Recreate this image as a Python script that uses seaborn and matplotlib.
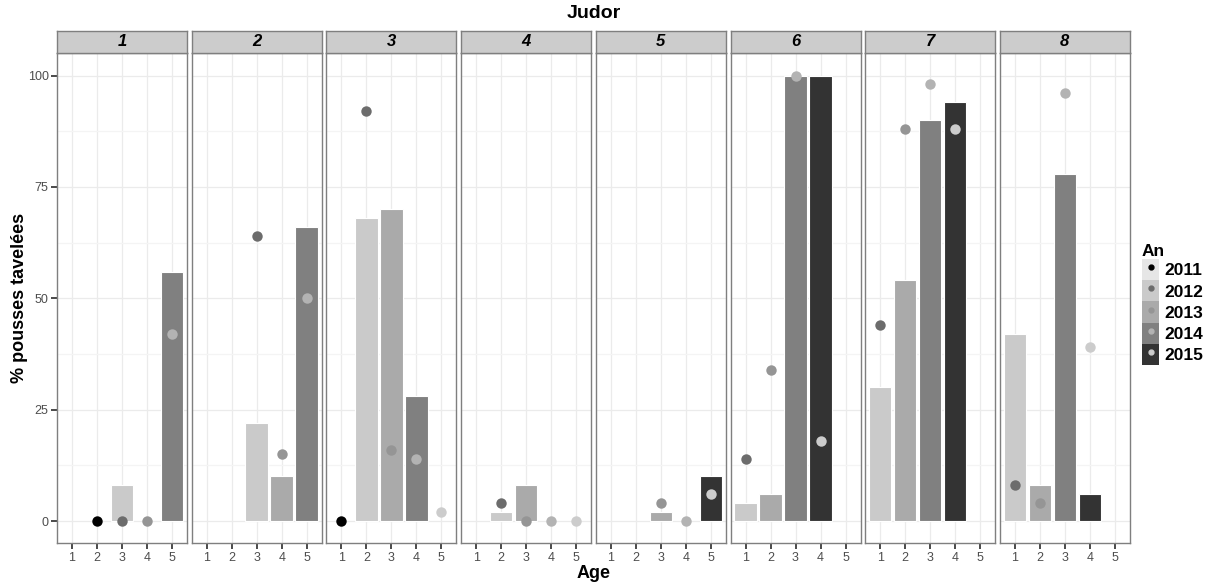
import pandas as pd
import matplotlib
matplotlib.use("Agg")
import matplotlib.pyplot as plt
from matplotlib.patches import Patch
from matplotlib.lines import Line2D
import seaborn as sns

sns.set_theme(style="white")
plt.rcParams['font.family'] = ['Liberation Sans', 'DejaVu Sans']
plt.rcParams['text.color'] = 'black'

# data
panels = [1, 2, 3, 4, 5, 6, 7, 8]
ages = [1, 2, 3, 4, 5]
years = [2011, 2012, 2013, 2014, 2015]

# bars: panel, age, year, value
bar_panel = [1, 1, 2, 2, 2, 3, 3, 3, 4, 4, 5, 5, 6, 6, 6, 6, 7, 7, 7, 7, 8, 8, 8, 8]
bar_age = [3, 5, 3, 4, 5, 2, 3, 4, 2, 3, 3, 5, 1, 2, 3, 4, 1, 2, 3, 4, 1, 2, 3, 4]
bar_year = [2012, 2014, 2012, 2013, 2014, 2012, 2013, 2014, 2012, 2013, 2013, 2015,
            2012, 2013, 2014, 2015, 2012, 2013, 2014, 2015, 2012, 2013, 2014, 2015]
bar_val = [8, 56, 22, 10, 66, 68, 70, 28, 2, 8, 2, 10,
           4, 6, 100, 100, 30, 54, 90, 94, 42, 8, 78, 6]

# points: panel, age, year, value
pt_panel = [1, 1, 1, 1, 2, 2, 2, 3, 3, 3, 3, 3, 4, 4, 4, 4, 5, 5, 5,
            6, 6, 6, 6, 7, 7, 7, 7, 8, 8, 8, 8]
pt_age = [2, 3, 4, 5, 3, 4, 5, 1, 2, 3, 4, 5, 2, 3, 4, 5, 3, 4, 5,
          1, 2, 3, 4, 1, 2, 3, 4, 1, 2, 3, 4]
pt_year = [2011, 2012, 2013, 2014, 2012, 2013, 2014, 2011, 2012, 2013, 2014, 2015,
           2012, 2013, 2014, 2015, 2013, 2014, 2015,
           2012, 2013, 2014, 2015, 2012, 2013, 2014, 2015, 2012, 2013, 2014, 2015]
pt_val = [0, 0, 0, 42, 64, 15, 50, 0, 92, 16, 14, 2, 4, 0, 0, 0, 4, 0, 6,
          14, 34, 100, 18, 44, 88, 98, 88, 8, 4, 96, 39]

fill_colors = ['#e6e6e6', '#cacaca', '#aaaaaa', '#808080', '#333333']
point_colors = ['#000000', '#6c6c6c', '#959595', '#b3b3b3', '#cccccc']

bars = pd.DataFrame({'panel': bar_panel, 'Age': bar_age, 'An': bar_year, 'val': bar_val})
pts = pd.DataFrame({'panel': pt_panel, 'Age': pt_age, 'An': pt_year, 'val': pt_val})
fill_map = dict(zip(years, fill_colors))
point_map = dict(zip(years, point_colors))

W, H = 1220, 585
fig = plt.figure(figsize=(W / 100, H / 100), dpi=100)

left0, step, pw = 57, 134.7, 130
top, bottom, strip_top = 53.3, 543.3, 30.7
border = '#7f7f7f'

for i, p in enumerate(panels):
    l = left0 + i * step
    ax = fig.add_axes([l / W, 1 - bottom / H, pw / W, (bottom - top) / H])
    sns.barplot(data=bars[bars.panel == p], x='Age', y='val', hue='An',
                order=ages, hue_order=years, palette=fill_map, dodge=False,
                width=0.9, saturation=1, errorbar=None, edgecolor='white',
                linewidth=0.8, legend=False, ax=ax, zorder=2)
    sns.stripplot(data=pts[pts.panel == p], x='Age', y='val', hue='An',
                  order=ages, hue_order=years, palette=point_map, jitter=False,
                  dodge=False, size=7.5, linewidth=0, legend=False, ax=ax, zorder=3)
    ax.set_xlim(-0.6, 4.6)
    ax.set_ylim(-5, 105)
    ax.set_yticks([0, 25, 50, 75, 100])
    ax.set_yticks([12.5, 37.5, 62.5, 87.5], minor=True)
    ax.set_xticks(range(5))
    ax.set_xticklabels([str(a) for a in ages])
    ax.grid(True, which='major', color='#ebebeb', lw=0.9, zorder=0)
    ax.grid(True, which='minor', axis='y', color='#f4f4f4', lw=0.9, zorder=0)
    ax.set_axisbelow(True)
    ax.set_xlabel('')
    ax.set_ylabel('')
    for s in ax.spines.values():
        s.set_color(border)
        s.set_linewidth(1)
    ax.tick_params(axis='x', which='major', length=4, color='#333333', labelsize=9,
                   labelcolor='#4d4d4d', pad=2, bottom=True)
    ax.tick_params(axis='y', which='minor', length=0)
    if i == 0:
        ax.tick_params(axis='y', which='major', length=4, color='#333333', labelsize=9,
                       labelcolor='#4d4d4d', pad=2, left=True)
    else:
        ax.tick_params(axis='y', which='major', length=0, labelleft=False)

    # facet strip
    sax = fig.add_axes([l / W, 1 - top / H, pw / W, (top - strip_top) / H])
    sax.set_facecolor('#cccccc')
    sax.set_xticks([])
    sax.set_yticks([])
    for s in sax.spines.values():
        s.set_color(border)
        s.set_linewidth(1)
    sax.text(0.5, 0.5, str(p), ha='center', va='center', fontsize=12, color='black',
             fontweight='bold', fontstyle='italic', transform=sax.transAxes)

mid = (left0 + 7 * step + pw + left0) / 2
fig.text(mid / W, 1 - 13 / H, 'Judor', ha='center', va='center', fontsize=14, fontweight='bold')
fig.text(mid / W, 1 - 574 / H, 'Age', ha='center', va='center', fontsize=13, fontweight='bold')
fig.text(20 / W, 1 - 298 / H, '% pousses tavelées', ha='center', va='center',
         rotation=90, fontsize=13, fontweight='bold')

handles = [(Patch(facecolor=fc, edgecolor='none'),
            Line2D([], [], marker='o', ls='', color=pc, markersize=3.5))
           for fc, pc in zip(fill_colors, point_colors)]
leg = fig.legend(handles, [str(y) for y in years], loc='upper left',
                 bbox_to_anchor=(1142 / W, 1 - 244 / H), frameon=False,
                 title='An', fontsize=12.5, title_fontsize=12.5,
                 handlelength=1.0, handleheight=1.5, labelspacing=0.0,
                 handletextpad=0.3, borderaxespad=0, borderpad=0)
leg.get_title().set_fontweight('bold')
leg._legend_box.align = 'left'
for t in leg.get_texts():
    t.set_fontweight('bold')
    t.set_color('black')

fig.savefig('out.png', dpi=100)
